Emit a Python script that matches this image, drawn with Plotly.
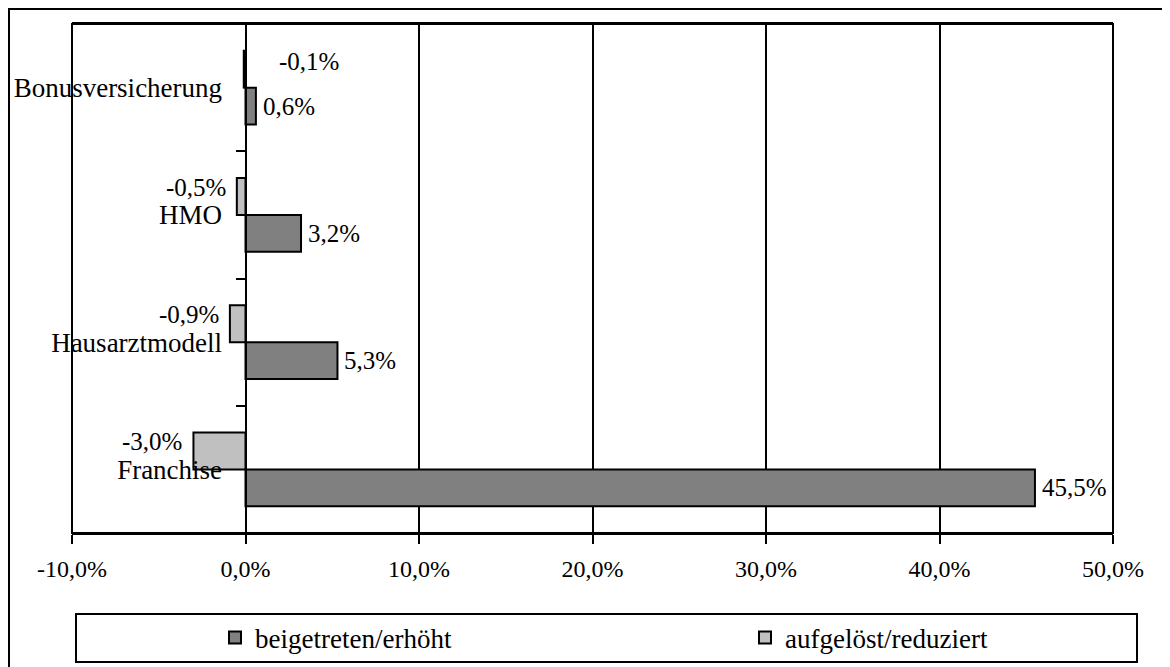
import plotly.graph_objects as go

categories = ["Bonusversicherung", "HMO", "Hausarztmodell", "Franchise"]
beigetreten = [0.6, 3.2, 5.3, 45.5]
aufgeloest = [-0.1, -0.5, -0.9, -3.0]
series_names = ["beigetreten/erhöht", "aufgelöst/reduziert"]
x_tickvals = [-10, 0, 10, 20, 30, 40, 50]
x_ticktext = ["-10,0%", "0,0%", "10,0%", "20,0%", "30,0%", "40,0%", "50,0%"]

FONT = "Liberation Serif"
FS_CAT = 27
FS_TICK = 24
FS_LAB = 25
FS_LEG = 27
DARK = "#808080"
LIGHT = "#c0c0c0"
BARGAP = 0.42

def fmt(v):
    return f"{v:.1f}".replace(".", ",") + "%"

fig = go.Figure()
fig.add_trace(go.Bar(
    y=categories, x=aufgeloest, orientation="h", name=series_names[1],
    marker=dict(color=LIGHT, line=dict(color="black", width=2)),
    legend="legend2",
))
fig.add_trace(go.Bar(
    y=categories, x=beigetreten, orientation="h", name=series_names[0],
    marker=dict(color=DARK, line=dict(color="black", width=2)),
    legend="legend",
))

half = (1 - BARGAP) / 4
annotations = []
for i, v in enumerate(beigetreten):
    annotations.append(dict(x=v, y=i + half, xref="x", yref="y", text=fmt(v),
                            showarrow=False, xanchor="left", xshift=5,
                            font=dict(family=FONT, size=FS_LAB, color="black")))
for i, v in enumerate(aufgeloest):
    if abs(v) < 0.3:
        annotations.append(dict(x=0, y=i - half, xref="x", yref="y", text=fmt(v),
                                showarrow=False, xanchor="left", xshift=31, yshift=8,
                                font=dict(family=FONT, size=FS_LAB, color="black")))
    else:
        annotations.append(dict(x=v, y=i - half, xref="x", yref="y", text=fmt(v),
                                showarrow=False, xanchor="right", xshift=-9, yshift=9,
                                font=dict(family=FONT, size=FS_LAB, color="black")))

# page body adds an 8px offset; figure sized so it fits the window
W, H = 1162, 659
L, R, T, B = 64, 57, 16, 134
pw = W - L - R
ph = H - T - B

def px_x(p):
    return (p - L) / pw

def px_y(p):
    return (H - B - p) / ph

shapes = [
    # outer border
    dict(type="rect", xref="paper", yref="paper", x0=px_x(1), x1=px_x(1180),
         y0=px_y(680), y1=px_y(1), line=dict(color="black", width=2), layer="below"),
    # plot frame
    dict(type="rect", xref="paper", yref="paper", x0=0, x1=1, y0=0, y1=1,
         line=dict(color="black", width=2)),
    # legend box
    dict(type="rect", xref="paper", yref="paper", x0=px_x(68), x1=px_x(1129),
         y0=px_y(654), y1=px_y(606), line=dict(color="black", width=2)),
]

leg_common = dict(orientation="h", xanchor="left", yanchor="middle",
                  bgcolor="rgba(0,0,0,0)", borderwidth=0,
                  font=dict(family=FONT, size=FS_LEG, color="black"))

fig.update_layout(
    width=W, height=H,
    margin=dict(l=L, r=R, t=T, b=B, autoexpand=False),
    paper_bgcolor="white", plot_bgcolor="white",
    barmode="group", bargap=BARGAP, bargroupgap=0,
    font=dict(family=FONT, size=FS_TICK, color="black"),
    xaxis=dict(range=[-10, 50], tickvals=x_tickvals, ticktext=x_ticktext,
               showgrid=True, gridcolor="black", gridwidth=1.5,
               zeroline=False, showline=True, mirror=True,
               linecolor="black", linewidth=2,
               ticks="outside", ticklen=9, tickwidth=2, tickcolor="black",
               ticklabelstandoff=4, tickfont=dict(size=FS_TICK), fixedrange=True),
    yaxis=dict(autorange="reversed", anchor="free", position=10 / 60,
               showline=True, linecolor="black", linewidth=2,
               ticks="outside", tickson="boundaries", ticklen=9, tickwidth=2,
               tickcolor="black", showgrid=False, ticklabelstandoff=17,
               tickfont=dict(size=FS_CAT), fixedrange=True),
    showlegend=True,
    legend=dict(x=px_x(207), y=px_y(630), **leg_common),
    legend2=dict(x=px_x(737), y=px_y(630), **leg_common),
    annotations=annotations,
    shapes=shapes,
)

fig.write_html("out.html")
